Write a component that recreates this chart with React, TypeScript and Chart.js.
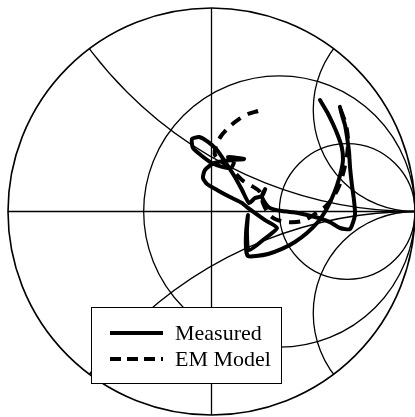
import React, { useEffect, useRef } from "react";
import { Chart, registerables } from "chart.js";

Chart.register(...registerables);

// Reflection coefficient (Gamma) values: real and imaginary parts
const measuredRe = [0.631, 0.641, 0.656, 0.666, 0.676, 0.681, 0.69, 0.7, 0.705, 0.681, 0.631, 0.582, 0.509, 0.425, 0.346, 0.287, 0.263, 0.248, 0.264, 0.248, 0.214, 0.184,
  0.15, 0.115, 0.071, 0.027, -0.017, -0.061, -0.096, -0.091, -0.047, 0.002, 0.052, 0.096, 0.11, 0.081, 0.13, 0.16, 0.101,
  0.012, -0.032, -0.042, -0.022, 0.027, 0.091, 0.15, 0.174,
  0.263, 0.322, 0.253, 0.184,
  0.174, 0.179, 0.17, 0.17, 0.179,
  0.219, 0.278, 0.346, 0.41, 0.469, 0.523, 0.563, 0.592, 0.617, 0.636, 0.646, 0.641, 0.622, 0.597, 0.568, 0.533];
const measuredIm = [0.514, 0.474, 0.425, 0.366, 0.292, 0.214, 0.13, 0.057, -0.017, -0.086, -0.081, -0.052, -0.027, -0.007, 0.002, 0.017, 0.042, 0.076, 0.11, 0.076, 0.066, 0.042,
  0.106, 0.17, 0.238, 0.302, 0.342, 0.366, 0.356, 0.312, 0.273, 0.238, 0.219, 0.214, 0.243, 0.268, 0.263, 0.258, 0.253,
  0.238, 0.204, 0.165, 0.135, 0.106, 0.071, 0.042, 0.022,
  -0.042, -0.081, -0.14, -0.189,
  -0.101, -0.017, -0.101, -0.189, -0.219,
  -0.219, -0.209, -0.184, -0.15, -0.106, -0.052, 0.007, 0.066, 0.13, 0.194, 0.253, 0.312, 0.371, 0.43, 0.489, 0.548];

const modelRe = [0.229, 0.179, 0.13, 0.086, 0.047, 0.022, 0.017, 0.052, 0.101, 0.15, 0.199, 0.238, 0.253, 0.278, 0.312, 0.376, 0.445, 0.509, 0.563, 0.602, 0.631, 0.651, 0.666, 0.671, 0.661, 0.641, 0.627];
const modelIm = [0.494, 0.479, 0.45, 0.415, 0.371, 0.322, 0.278, 0.243, 0.204, 0.155, 0.125, 0.096, 0.042, -0.007, -0.037, -0.052, -0.047, -0.012, 0.027, 0.076, 0.135, 0.204, 0.278, 0.351, 0.425, 0.484, 0.518];

// Smith chart grid values
const resistanceCircles = [0.5, 2];
const reactanceArcs = [0.5, -0.5, 2, -2];

const seriesNames = ["Measured", "EM Model"];

const toPoints = (re: number[], im: number[]) => re.map((v, i) => ({ x: v, y: im[i] }));

const smithGrid = {
  id: "smithGrid",
  beforeDatasetsDraw(chart: any) {
    const { ctx } = chart;
    const xs = chart.scales.x;
    const ys = chart.scales.y;
    const px = (v: number) => xs.getPixelForValue(v);
    const py = (v: number) => ys.getPixelForValue(v);
    const cx = px(0);
    const cy = py(0);
    const R = px(1) - px(0);
    ctx.save();
    ctx.strokeStyle = "#000";
    ctx.lineWidth = 1.3;
    ctx.beginPath();
    ctx.moveTo(px(-1), cy);
    ctx.lineTo(px(1), cy);
    ctx.moveTo(cx, py(1));
    ctx.lineTo(cx, py(-1));
    ctx.stroke();
    ctx.save();
    ctx.beginPath();
    ctx.arc(cx, cy, R, 0, Math.PI * 2);
    ctx.clip();
    resistanceCircles.forEach((r) => {
      const c = r / (1 + r);
      const rad = 1 / (1 + r);
      ctx.beginPath();
      ctx.arc(px(c), cy, px(c + rad) - px(c), 0, Math.PI * 2);
      ctx.stroke();
    });
    reactanceArcs.forEach((x) => {
      const rad = 1 / Math.abs(x);
      ctx.beginPath();
      ctx.arc(px(1), py(1 / x), px(1 + rad) - px(1), 0, Math.PI * 2);
      ctx.stroke();
    });
    ctx.restore();
    ctx.lineWidth = 1.6;
    ctx.beginPath();
    ctx.arc(cx, cy, R, 0, Math.PI * 2);
    ctx.stroke();
    ctx.restore();
  },
};

const boxLegend = {
  id: "boxLegend",
  afterDraw(chart: any) {
    const { ctx } = chart;
    const left = 91.5, top = 307.5, w = 190, h = 76;
    ctx.save();
    ctx.fillStyle = "#fff";
    ctx.fillRect(left, top, w, h);
    ctx.strokeStyle = "#000";
    ctx.lineWidth = 1;
    ctx.strokeRect(left, top, w, h);
    const rows = [333, 359];
    ctx.lineWidth = 4;
    ctx.lineCap = "butt";
    rows.forEach((y, i) => {
      ctx.setLineDash(i === 0 ? [] : [11, 6]);
      ctx.beginPath();
      ctx.moveTo(110, y);
      ctx.lineTo(163, y);
      ctx.stroke();
    });
    ctx.setLineDash([]);
    ctx.fillStyle = "#000";
    ctx.font = '22px "Liberation Serif", "Times New Roman", serif';
    ctx.textBaseline = "alphabetic";
    ctx.fillText(seriesNames[0], 175, 340);
    ctx.fillText(seriesNames[1], 175, 366);
    ctx.restore();
  },
};

export default function App() {
  const ref = useRef<HTMLCanvasElement>(null);
  useEffect(() => {
    if (!ref.current) return;
    const chart = new Chart(ref.current, {
      type: "scatter",
      data: {
        datasets: [
          {
            label: seriesNames[0],
            data: toPoints(measuredRe, measuredIm),
            showLine: true,
            borderColor: "#000",
            borderWidth: 4,
            pointRadius: 0,
            tension: 0.2,
            borderCapStyle: "round",
            borderJoinStyle: "round",
            clip: false as any,
          },
          {
            label: seriesNames[1],
            data: toPoints(modelRe, modelIm),
            showLine: true,
            borderColor: "#000",
            borderWidth: 4,
            borderDash: [11, 8],
            pointRadius: 0,
            tension: 0.3,
            clip: false as any,
          },
        ],
      },
      options: {
        animation: false,
        responsive: false,
        layout: { padding: { left: 8, top: 8, right: 0, bottom: 2 } },
        scales: {
          x: { type: "linear", min: -1, max: 1, display: false },
          y: { type: "linear", min: -1, max: 1, display: false },
        },
        plugins: { legend: { display: false }, tooltip: { enabled: false } },
      },
      plugins: [smithGrid, boxLegend],
    });
    return () => chart.destroy();
  }, []);
  return (
    <div style={{ position: "absolute", left: 0, top: 0, width: 415, height: 417, background: "#fff" }}>
      <canvas ref={ref} width={415} height={417} style={{ display: "block" }} />
    </div>
  );
}
